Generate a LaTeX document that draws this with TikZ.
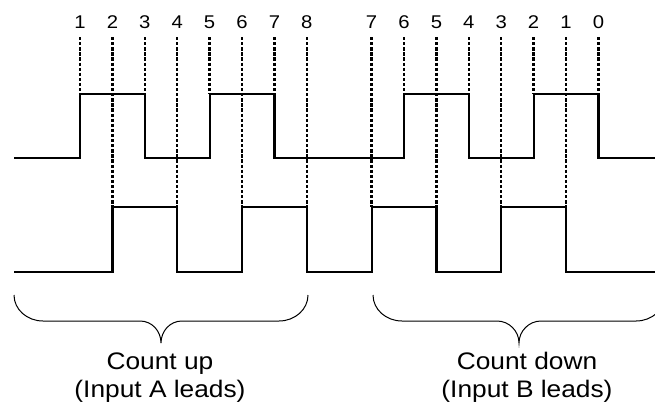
\documentclass[tikz,border=0pt]{standalone}
\usepackage{fontspec}
\setmainfont{Liberation Sans}
\begin{document}
\begin{tikzpicture}[x=1bp,y=-1bp,
  sig/.style={line width=2.2bp, line join=miter},
  guide/.style={line width=2.3bp, dash pattern=on 3.3bp off 1.8bp},
  num/.style={font=\fontsize{18.5}{20}\selectfont, anchor=base, inner sep=0pt},
  capt/.style={font=\fontsize{24}{28}\selectfont, anchor=base, inner sep=0pt},
  bracestyle/.style={line width=1bp}]
\clip (0,0) rectangle (655,413);
% step labels, dashed guides: x position / label / name / end of guide
\foreach \x/\t/\n/\e in {80/1/a1/94, 112.4/2/a2/207, 144.8/3/a3/94, 177.2/4/a4/207,
    209.6/5/a5/94, 242/6/a6/207, 274.4/7/a7/94, 306.8/8/a8/207,
    371.6/7/b7/207, 404/6/b6/94, 436.4/5/b5/207, 468.8/4/b4/94,
    501.2/3/b3/207, 533.6/2/b2/94, 566/1/b1/207, 598.4/0/b0/94}{
  \node[num] (\n) at (\x,28) {\scalebox{1.1}[1]{\t}};
  \coordinate (\n s) at (\x,37);
  \coordinate (\n e) at (\x,\e);
  \draw[guide] (\n s) -- (\n e);
}
% input A
\draw[sig] (14,158) -- (80,158) -- (80,94) -- (144.8,94) -- (144.8,158) -- (209.6,158)
  -- (209.6,94) -- (274.4,94) -- (274.4,158) -- (404,158) -- (404,94) -- (468.8,94)
  -- (468.8,158) -- (533.6,158) -- (533.6,94) -- (598.4,94) -- (598.4,158) -- (655,158);
% input B
\draw[sig] (14,272) -- (112.4,272) -- (112.4,207) -- (177.2,207) -- (177.2,272) -- (242,272)
  -- (242,207) -- (306.8,207) -- (306.8,272) -- (371.6,272) -- (371.6,207) -- (436.4,207)
  -- (436.4,272) -- (501.2,272) -- (501.2,207) -- (566,207) -- (566,272) -- (655,272);
% braces
\draw[bracestyle] (14,295) .. controls (14,309.4) and (27,321) .. (43,321) -- (140,321)
  .. controls (152,321) and (161,331) .. (161,343)
  .. controls (161,331) and (170,321) .. (182,321) -- (279,321)
  .. controls (295,321) and (308,309.4) .. (308,295);
\draw[bracestyle] (373,295) .. controls (373,309.4) and (386,321) .. (402,321) -- (497,321)
  .. controls (509,321) and (519,331) .. (519,343)
  .. controls (519,331) and (529,321) .. (541,321) -- (636,321)
  .. controls (652,321) and (665,309.4) .. (665,295);
% captions
\node[capt] (up1) at (160,369) {\scalebox{1.1}[1]{Count up}};
\node[capt] (up2) at (160,397) {\scalebox{1.1}[1]{(Input A leads)}};
\node[capt] (dn1) at (527,369) {\scalebox{1.1}[1]{Count down}};
\node[capt] (dn2) at (527,397) {\scalebox{1.1}[1]{(Input B leads)}};
\end{tikzpicture}
\end{document}
